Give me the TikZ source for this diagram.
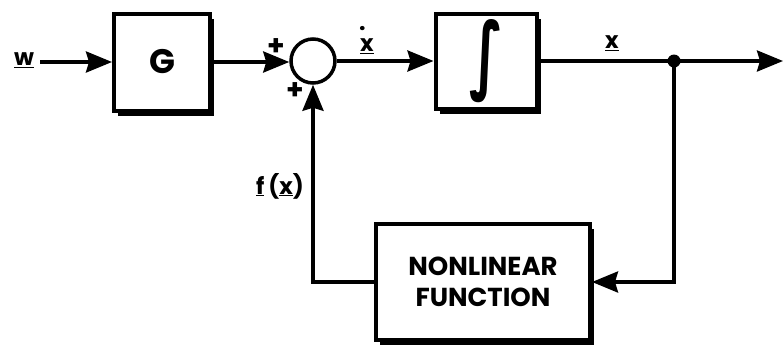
\documentclass[tikz,border=0pt]{standalone}
\usepackage{fontspec}
\setmainfont{Poppins}
\newfontfamily\intfont{DejaVu Sans}
\usetikzlibrary{arrows.meta,shadows}
\begin{document}
\begin{tikzpicture}[x=1pt,y=-1pt,
  line width=3.5pt,
  font=\bfseries,
  blk/.style={draw,fill=white,line width=4pt,
    drop shadow={shadow xshift=4pt,shadow yshift=-5pt,fill=black,opacity=1}},
  sumc/.style={draw,circle,minimum size=44pt,inner sep=0pt,line width=3.5pt},
  lbl/.style={inner sep=0pt,font=\bfseries\fontsize{23}{25}\selectfont},
  arr/.style={-{Stealth[length=26pt,width=21pt,inset=3pt]}}]
\useasboundingbox (0,0) rectangle (784,346);
% blocks
\node[blk,minimum width=96pt,minimum height=97pt,font=\bfseries\fontsize{34}{36}\selectfont] (G) at (162,62) {G};
\node[sumc] (S) at (313,61) {};
\node[blk,minimum width=101pt,minimum height=95pt] (I) at (486,61) {\resizebox{34pt}{64pt}{\intfont\bfseries ∫}};
\node[blk,minimum width=214pt,minimum height=116pt,align=center,font=\bfseries\fontsize{26}{31}\selectfont] (N) at (483,282) {NONLINEAR\\FUNCTION};
% coordinates
\coordinate (win) at (40,62);
\node[circle,fill=black,minimum size=13pt,inner sep=0pt] (J) at (674,61) {};
\coordinate (out) at (783,61);
\coordinate (c1) at (674,282);
\coordinate (c2) at (313,282);
% labels
\node[lbl] (lw) at (24,60) {\underline{w}};
\node[lbl] (ldx) at (367,40) {\underline{\makebox[0pt][l]{\raisebox{0.9em}{\hspace{-0.05em}.}}x}};
\node[lbl] (lx) at (612,43) {\underline{x}};
\node[lbl] (lf) at (280,186) {\underline{f}\,(\underline{x})};
\node[lbl,font=\bfseries\fontsize{28}{30}\selectfont] (p1) at (276,47) {+};
\node[lbl,font=\bfseries\fontsize{28}{30}\selectfont] (p2) at (295,91) {+};
% connectors
\draw[arr] (win) -- (G.west);
\draw[arr] (G.east) -- (S.west |- G.east);
\draw[arr] (S.east) -- (I.west);
\draw (I.east) -- (J.center);
\draw[arr] (J.center) -- (out);
\draw[arr] (J.center) -- (c1) -- (N.east);
\draw[arr] (N.west) -- (c2) -- (S.south);
\end{tikzpicture}
\end{document}
